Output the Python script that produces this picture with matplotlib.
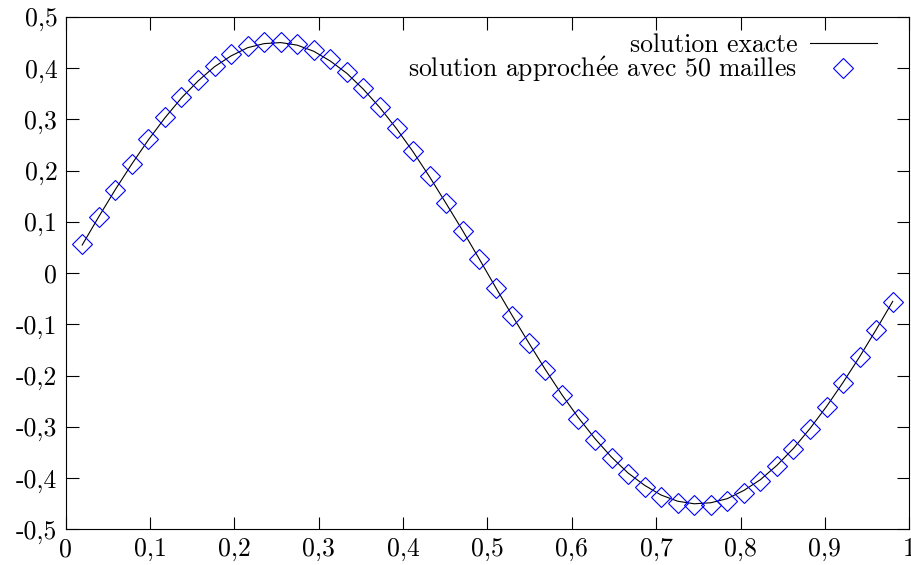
import numpy as np
import matplotlib
matplotlib.use('Agg')
import matplotlib.pyplot as plt

plt.rcParams.update({'font.family': ['cmr10', 'DejaVu Serif'], 'font.size': 18.5,
                     'axes.unicode_minus': False, 'mathtext.fontset': 'cm'})

# maillage : 50 noeuds interieurs, pas 1/51
x = [0.0196, 0.0392, 0.0588, 0.0784, 0.0980, 0.1176, 0.1373, 0.1569, 0.1765, 0.1961,
     0.2157, 0.2353, 0.2549, 0.2745, 0.2941, 0.3137, 0.3333, 0.3529, 0.3725, 0.3922,
     0.4118, 0.4314, 0.4510, 0.4706, 0.4902, 0.5098, 0.5294, 0.5490, 0.5686, 0.5882,
     0.6078, 0.6275, 0.6471, 0.6667, 0.6863, 0.7059, 0.7255, 0.7451, 0.7647, 0.7843,
     0.8039, 0.8235, 0.8431, 0.8627, 0.8824, 0.9020, 0.9216, 0.9412, 0.9608, 0.9804]
u_exact = [0.055, 0.110, 0.163, 0.213, 0.260, 0.303, 0.342, 0.375, 0.403, 0.424,
           0.440, 0.448, 0.450, 0.445, 0.433, 0.414, 0.390, 0.359, 0.323, 0.282,
           0.237, 0.188, 0.136, 0.083, 0.028, -0.028, -0.083, -0.136, -0.188, -0.237,
           -0.282, -0.323, -0.359, -0.390, -0.414, -0.433, -0.445, -0.450, -0.448, -0.440,
           -0.424, -0.403, -0.375, -0.342, -0.303, -0.260, -0.213, -0.163, -0.110, -0.055]
u_approx = [0.056, 0.110, 0.163, 0.214, 0.261, 0.304, 0.343, 0.376, 0.405, 0.428,
            0.444, 0.452, 0.452, 0.448, 0.436, 0.417, 0.392, 0.361, 0.325, 0.284,
            0.238, 0.189, 0.137, 0.083, 0.028, -0.028, -0.083, -0.137, -0.189, -0.238,
            -0.284, -0.325, -0.361, -0.392, -0.417, -0.436, -0.448, -0.452, -0.452, -0.444,
            -0.428, -0.405, -0.376, -0.343, -0.304, -0.261, -0.214, -0.163, -0.110, -0.056]
xticks = [0, 0.1, 0.2, 0.3, 0.4, 0.5, 0.6, 0.7, 0.8, 0.9, 1]
xlabels = ['0', '0,1', '0,2', '0,3', '0,4', '0,5', '0,6', '0,7', '0,8', '0,9', '1']
yticks = [-0.5, -0.4, -0.3, -0.2, -0.1, 0, 0.1, 0.2, 0.3, 0.4, 0.5]
ylabels = ['-0,5', '-0,4', '-0,3', '-0,2', '-0,1', '0', '0,1', '0,2', '0,3', '0,4', '0,5']

fig = plt.figure(figsize=(9.12, 5.65), dpi=100)
ax = fig.add_axes([0.072, 0.063, 0.925, 0.907])
ax.plot(x, u_exact, color='black', lw=0.8, label='solution exacte')
ax.plot(x, u_approx, ls='none', marker='D', ms=10, mfc='none', mec='#0000ff', mew=0.8,
        label=r'solution approch$\acute{\mathrm{e}}$e avec 50 mailles')
ax.set_xlim(0, 1); ax.set_ylim(-0.5, 0.5)
ax.set_xticks(xticks); ax.set_xticklabels(xlabels)
ax.set_yticks(yticks); ax.set_yticklabels(ylabels)
ax.tick_params(direction='in', length=9, width=0.8, top=True, right=True, pad=6)
for s in ax.spines.values(): s.set_linewidth(0.8)
leg = ax.legend(loc='upper right', bbox_to_anchor=(0.9615, 0.968), frameon=False, markerfirst=False,
                handlelength=2.6, handletextpad=0.5, borderpad=0, borderaxespad=0, labelspacing=-0.08)
fig.savefig('out.png', dpi=100)
